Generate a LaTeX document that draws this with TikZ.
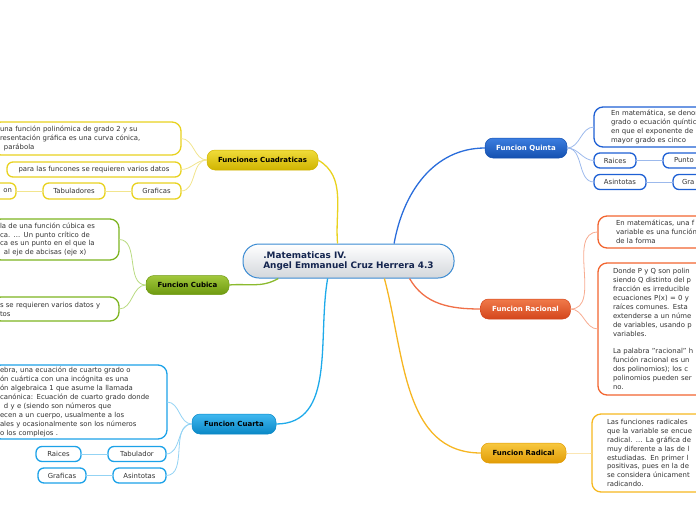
\documentclass[tikz,border=0pt]{standalone}
\usepackage{fontspec}
\setmainfont{DejaVu Sans}
\usepackage{xcolor,tikz}
\usetikzlibrary{positioning}
\definecolor{txt}{HTML}{333333}
\definecolor{cenB}{HTML}{3A8AD2}\definecolor{cenD}{HTML}{D3D7DC}\definecolor{cenT}{HTML}{14254F}
\definecolor{cuadL}{HTML}{F0DC3A}\definecolor{cuadD}{HTML}{D0B400}\definecolor{cuadM}{HTML}{E9D21E}\definecolor{cuadS}{HTML}{E8D220}\definecolor{cuadC}{HTML}{F2E58E}
\definecolor{cubL}{HTML}{A2C83C}\definecolor{cubD}{HTML}{6E9A10}\definecolor{cubM}{HTML}{8BBA2E}\definecolor{cubS}{HTML}{7DB421}\definecolor{cubC}{HTML}{BADB83}
\definecolor{cuarL}{HTML}{40B8F0}\definecolor{cuarD}{HTML}{0A88C6}\definecolor{cuarM}{HTML}{1EAAEA}\definecolor{cuarS}{HTML}{1CA2E8}\definecolor{cuarC}{HTML}{93D3F4}
\definecolor{quinL}{HTML}{3C7EE0}\definecolor{quinD}{HTML}{1450B0}\definecolor{quinM}{HTML}{2A6DDB}\definecolor{quinS}{HTML}{1E60D4}\definecolor{quinC}{HTML}{9CB9EC}
\definecolor{racL}{HTML}{F07A4A}\definecolor{racD}{HTML}{D4461C}\definecolor{racM}{HTML}{F07048}\definecolor{racS}{HTML}{F26530}\definecolor{racC}{HTML}{F7AB90}
\definecolor{radL}{HTML}{F7C840}\definecolor{radD}{HTML}{E29C05}\definecolor{radM}{HTML}{F6B622}\definecolor{radS}{HTML}{F6B820}\definecolor{radC}{HTML}{F9D88A}
\newcommand\mapfs{\fontsize{6.9}{8.9}\selectfont}

\begin{document}
\begin{tikzpicture}[x=1pt,y=-1pt,node distance=27pt,
cen/.style={draw=cenB,line width=1pt,rounded corners=16pt,top color=white,bottom color=cenD,minimum width=211pt,minimum height=34pt,align=left,font=\fontsize{8.9}{10.5}\selectfont\bfseries,text=cenT,inner sep=0pt},
mn/.style={draw=#1D,line width=0.5pt,top color=#1L,bottom color=#1D,rounded corners=8pt,minimum height=20pt,inner sep=0pt,outer sep=0pt,font=\fontsize{7}{8}\selectfont\bfseries},
bx/.style={draw=#1,line width=1.3pt,fill=white,rounded corners=9pt,align=left,font=\mapfs,text=txt,inner xsep=8pt,inner ysep=0pt,outer sep=0pt},
lf/.style={draw=#1,line width=1.3pt,fill=white,rounded corners=6pt,font=\mapfs,text=txt,minimum height=15pt,inner sep=0pt,outer sep=0pt},
ln/.style={line width=1.3pt,#1},sl/.style={line width=0.8pt,#1}]
\useasboundingbox (0,0) rectangle (696,520);
\clip (0,0) rectangle (696,520);
\node[cen] (cen) at (348.5,261) {.Matematicas IV.\\Angel Emmanuel Cruz Herrera 4.3};
% ramas principales
\node[mn=cuad,minimum width=111pt,text=black] (cuad) at (262.5,160) {Funciones Cuadraticas};
\node[mn=cub,minimum width=83pt,minimum height=19pt,text=black] (cub) at (187.5,285) {Funcion Cubica};
\node[mn=cuar,minimum width=84pt,text=black] (cuar) at (234,424) {Funcion Cuarta};
\node[mn=quin,minimum width=82pt,text=white] (quin) at (526,148) {Funcion Quinta};
\node[mn=rac,minimum width=90pt,text=white] (rac) at (525.5,309) {Funcion Racional};
\node[mn=rad,minimum width=85pt,text=black] (rad) at (523.5,453) {Funcion Radical};
% cuadraticas
\node[bx=cuadS,anchor=east,text width=173pt,minimum height=33pt] (cuadDef) at (181,138.5) {una función polinómica de grado 2 y su\\resentación gráfica es una curva cónica,\\\hspace*{4pt}parábola};
\node[lf=cuadS,minimum width=174pt] (cuadDatos) at (94,169.5) {para las funcones se requieren varios datos};
\node[lf=cuadS,minimum width=49pt,minimum height=16pt] (cuadGraf) at (156.5,191) {Graficas};
\node[lf=cuadS,minimum width=62pt,minimum height=16pt,left=of cuadGraf] (cuadTab) {Tabuladores};
\node[lf=cuadS,minimum height=16pt,inner xsep=4pt,text width=30pt,align=right,left=of cuadTab] (cuadX) {on};
% cubica
\node[bx=cubS,anchor=east,text width=111pt,minimum height=41pt] (cubDef) at (119,239.5) {la de una función cúbica es\\ca. ... Un punto crítico de\\ca es un punto en el que la\\\hspace*{4pt}al eje de abcisas (eje x)};
\node[bx=cubS,anchor=east,text width=111pt,minimum height=24pt] (cubDatos) at (119,309) {s se requieren varios datos y\\tos};
% cuarta
\node[bx=cuarS,anchor=east,text width=159pt,minimum height=74pt] (cuarDef) at (167,402) {ebra, una ecuación de cuarto grado o\\ón cuártica con una incógnita es una\\ón algebraica 1 que asume la llamada\\canónica: Ecuación de cuarto grado donde\\\hspace*{4pt}d y e (siendo son números que\\ecen a un cuerpo, usualmente a los\\ales y ocasionalmente son los números\\o los complejos .};
\node[lf=cuarS,minimum width=58pt] (cuarTab) at (137,454) {Tabulador};
\node[lf=cuarS,minimum width=45pt,left=of cuarTab] (cuarRai) {Raices};
\node[lf=cuarS,minimum width=53pt] (cuarAsi) at (139.5,475.5) {Asintotas};
\node[lf=cuarS,minimum width=48pt,left=of cuarAsi] (cuarGraf) {Graficas};
% quinta
\node[bx=quinS,anchor=west,inner xsep=17pt,text width=150pt,minimum height=40pt] (quinDef) at (594,127) {En matemática, se denom\\grado o ecuación quíntica\\en que el exponente de la\\mayor grado es cinco};
\node[lf=quinS,minimum width=42pt] (quinRai) at (615,160.5) {Raices};
\node[lf=quinS,inner xsep=11pt,text width=40pt,align=left,right=of quinRai] (quinPun) {Punto};
\node[lf=quinS,minimum width=52pt] (quinAsi) at (620,182) {Asintotas};
\node[lf=quinS,inner xsep=9pt,text width=40pt,align=left,right=of quinAsi] (quinGra) {Gra};
% racional
\node[bx=racS,anchor=west,inner xsep=18pt,text width=150pt,minimum height=32pt] (racDef) at (598,232) {En matemáticas, una f\\variable es una función\\de la forma};
\node[bx=racS,anchor=west,inner xsep=15pt,text width=150pt,minimum height=132pt] (racDonde) at (598,329) {Donde P y Q son polin\\siendo Q distinto del p\\fracción es irreducible\\ecuaciones P(x) = 0 y\\raíces comunes. Esta\\extenderse a un núme\\de variables, usando p\\variables.\\[8.9pt]La palabra "racional" h\\función racional es un\\dos polinomios); los c\\polinomios pueden ser\\no.};
% radical
\node[bx=radS,anchor=west,inner xsep=15pt,text width=150pt,minimum height=78pt] (radDef) at (592,453) {Las funciones radicales\\que la variable se encue\\radical. ... La gráfica de\\muy diferente a las de l\\estudiadas. En primer l\\positivas, pues en la de\\se considera únicament\\radicando.};
% conectores
\draw[ln=cuadM] (cen.122) to[out=95,in=-30] (cuad.east);
\draw[ln=cubM] (cen.194) to[out=210,in=5] (cub.east);
\draw[ln=cuarM] (cen.220) to[out=260,in=0] (cuar.east);
\draw[ln=quinM] (cen.21) to[out=80,in=180] (quin.west);
\draw[ln=racM] (cen.344) to[out=300,in=180] (rac.west);
\draw[ln=radM] (cen.334) to[out=285,in=180] (rad.west);
\draw[sl=cuadC] (cuad.west) to[out=180,in=0] (cuadDef.east);\draw[sl=cuadC] (cuad.west) to[out=180,in=0] (cuadDatos.east);\draw[sl=cuadC] (cuad.west) to[out=180,in=0] (cuadGraf.east);
\draw[sl=cuadC] (cuadGraf)--(cuadTab);\draw[sl=cuadC] (cuadTab)--(cuadX);
\draw[sl=cubC] (cub.west) to[out=180,in=0] (cubDef.east);\draw[sl=cubC] (cub.west) to[out=180,in=0] (cubDatos.east);
\draw[sl=cuarC] (cuar.west) to[out=180,in=0] (cuarDef.east);\draw[sl=cuarC] (cuar.west) to[out=180,in=0] (cuarTab.east);\draw[sl=cuarC] (cuar.west) to[out=180,in=0] (cuarAsi.east);
\draw[sl=cuarC] (cuarTab)--(cuarRai);\draw[sl=cuarC] (cuarAsi)--(cuarGraf);
\draw[sl=quinC] (quin.east) to[out=0,in=180] (quinDef.west);\draw[sl=quinC] (quin.east) to[out=0,in=180] (quinRai.west);\draw[sl=quinC] (quin.east) to[out=0,in=180] (quinAsi.west);
\draw[sl=quinC] (quinRai)--(quinPun);\draw[sl=quinC] (quinAsi)--(quinGra);
\draw[sl=racC] (rac.east) to[out=0,in=180] (racDef.west);\draw[sl=racC] (rac.east) to[out=0,in=180] (racDonde.west);
\draw[sl=radC] (rad.east) to[out=0,in=180] (radDef.west);
\end{tikzpicture}
\end{document}
